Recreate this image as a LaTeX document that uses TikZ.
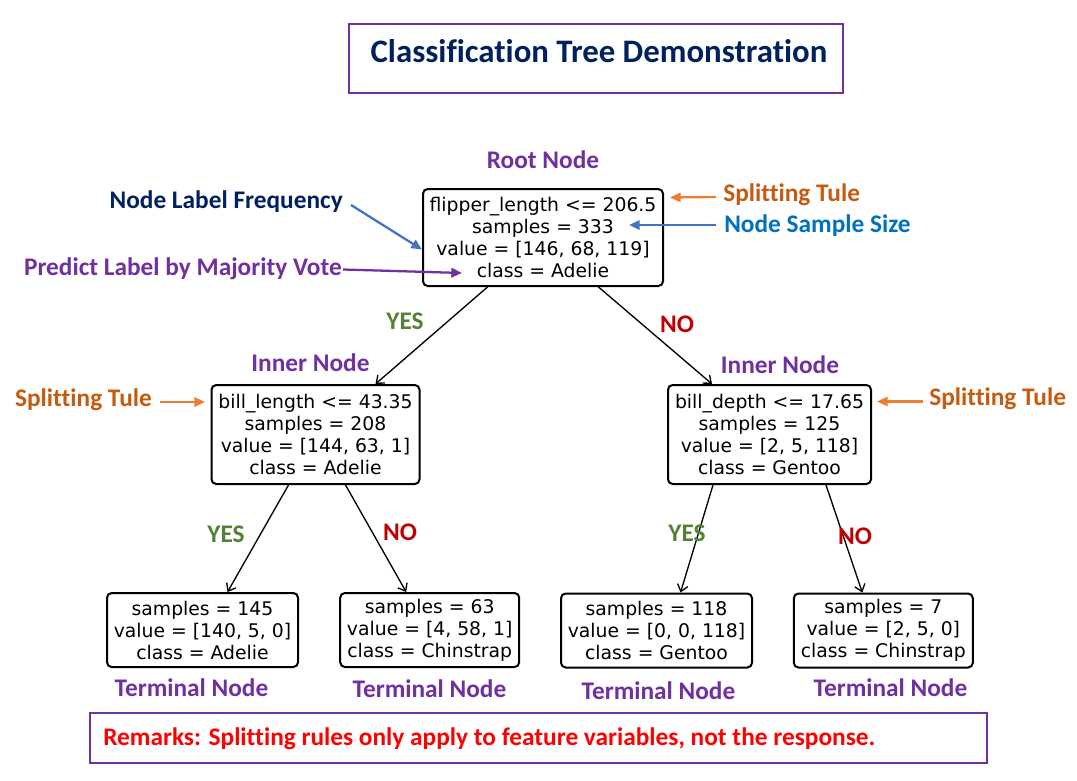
\documentclass[tikz,border=0pt]{standalone}
\usepackage{fontspec}
\setmainfont{Carlito}[Ligatures={NoCommon}]
\newfontfamily\dejavu{DejaVu Sans}
\usetikzlibrary{arrows.meta,calc}
\definecolor{cpurple}{HTML}{7030A0}
\definecolor{cnavy}{HTML}{002060}
\definecolor{corangetxt}{HTML}{C55A11}
\definecolor{corange}{HTML}{ED7D31}
\definecolor{cbluetxt}{HTML}{0070C0}
\definecolor{cblue}{HTML}{4472C4}
\definecolor{cgreen}{HTML}{548235}
\definecolor{cdarkred}{HTML}{C00000}
\definecolor{cred}{HTML}{FF0000}
\newcommand{\pxl}[1]{#1*0.75pt}
\tikzset{
  tnode/.style={draw, line width=1.5pt, rounded corners=3.5pt, align=center, inner sep=0pt,
    font=\dejavu\fontsize{14.1}{16.5}\selectfont, fill=white},
  lbl/.style={font=\bfseries\fontsize{19}{22}\selectfont, inner sep=0pt, anchor=base},
  edge/.style={line width=1pt, -{Straight Barb[length=5pt,width=8pt]}},
  ann/.style={line width=1.7pt, -{Triangle[length=8pt,width=7pt]}},
  yes/.style={lbl, text=cgreen},
  no/.style={lbl, text=cdarkred},
}
\begin{document}
\begin{tikzpicture}[x=0.75pt,y=-0.75pt]
\useasboundingbox (0,0) rectangle (1077,781);
% title
\node[draw=cpurple, line width=1.5pt, minimum width=\pxl{494}, minimum height=\pxl{69}, inner sep=0pt] (titlebox) at (596.3,58.7) {};
\node[font=\bfseries\fontsize{24.6}{28}\selectfont, text=cnavy, anchor=base, inner sep=0pt] (title) at (599,62.7) {Classification Tree Demonstration};
% tree nodes
\node[tnode, minimum width=\pxl{240}, minimum height=\pxl{97}] (root) at (543,237.5)
  {flipper\_length <= 206.5\\samples = 333\\value = [146, 68, 119]\\class = Adelie};
\node[tnode, minimum width=\pxl{208}, minimum height=\pxl{99}] (L) at (315.5,434.5)
  {bill\_length <= 43.35\\samples = 208\\value = [144, 63, 1]\\class = Adelie};
\node[tnode, minimum width=\pxl{203}, minimum height=\pxl{99}] (R) at (769.5,434.5)
  {bill\_depth <= 17.65\\samples = 125\\value = [2, 5, 118]\\class = Gentoo};
\node[tnode, minimum width=\pxl{191}, minimum height=\pxl{74}] (LL) at (202.5,630)
  {samples = 145\\value = [140, 5, 0]\\class = Adelie};
\node[tnode, minimum width=\pxl{179}, minimum height=\pxl{74}] (LR) at (429.7,630)
  {samples = 63\\value = [4, 58, 1]\\class = Chinstrap};
\node[tnode, minimum width=\pxl{191}, minimum height=\pxl{74}] (RL) at (656.5,630.5)
  {samples = 118\\value = [0, 0, 118]\\class = Gentoo};
\node[tnode, minimum width=\pxl{179}, minimum height=\pxl{74}] (RR) at (883.3,630.5)
  {samples = 7\\value = [2, 5, 0]\\class = Chinstrap};
% tree edges
\draw[edge] ([shift={(-55.5,0)}]root.south) -- ([shift={(60,0)}]L.north);
\draw[edge] ([shift={(55.5,0)}]root.south) -- ([shift={(-57.5,0)}]R.north);
\draw[edge] ([shift={(-27,0)}]L.south) -- ([shift={(25,0)}]LL.north);
\draw[edge] ([shift={(30,0)}]L.south) -- ([shift={(-23.5,0)}]LR.north);
\draw[edge] ([shift={(-56.5,0)}]R.south) -- ([shift={(24,0)}]RL.north);
\draw[edge] ([shift={(56.5,0)}]R.south) -- ([shift={(-21,0)}]RR.north);
% edge labels
\node[yes] (yes1) at (405,329) {YES};
\node[no] (no1) at (677,332) {NO};
\node[yes] (yes2) at (226,542) {YES};
\node[no] (no2) at (400,540) {NO};
\node[yes] (yes3) at (687,541) {YES};
\node[no] (no3) at (855,544) {NO};
% node type labels
\node[lbl, text=cpurple] (rootlbl) at (543,169) {Root Node};
\node[lbl, text=cpurple] (innl) at (310.5,371.5) {Inner Node};
\node[lbl, text=cpurple] (innr) at (780,373.5) {Inner Node};
\node[lbl, text=cpurple] (tn1) at (191.5,696) {Terminal Node};
\node[lbl, text=cpurple] (tn2) at (429.5,697) {Terminal Node};
\node[lbl, text=cpurple] (tn3) at (658.5,699) {Terminal Node};
\node[lbl, text=cpurple] (tn4) at (890.5,696) {Terminal Node};
% annotations
\node[lbl, anchor=base east, text=cnavy] (nlf) at (343,208) {Node Label Frequency};
\node[lbl, anchor=base east, text=cpurple] (pl) at (342,275) {Predict Label by Majority Vote};
\node[lbl, anchor=base west, text=corangetxt] (st1) at (723,201) {Splitting Tule};
\node[lbl, anchor=base west, text=cbluetxt] (nss) at (724,232) {Node Sample Size};
\node[lbl, anchor=base east, text=corangetxt] (st2) at (152,406.5) {Splitting Tule};
\node[lbl, anchor=base west, text=corangetxt] (st3) at (929,405.5) {Splitting Tule};
\draw[ann, cblue] ([shift={(8,-3)}]nlf.base east) -- ([shift={(0,12)}]root.west);
\draw[ann, cpurple] ([shift={(1,-5.5)}]pl.base east) -- ([shift={(40,35.5)}]root.west);
\draw[ann, corange] ([shift={(-7,-4)}]st1.base west) -- ([shift={(6,-40)}]root.east);
\draw[ann, cblue] ([shift={(-8,-7)}]nss.base west) -- ([shift={(-35,-12.5)}]root.east);
\draw[ann, corange] ([shift={(8,-4.5)}]st2.base east) -- ([shift={(-5.5,-32.5)}]L.west);
\draw[ann, corange] ([shift={(-6,-4)}]st3.base west) -- ([shift={(5,-33)}]R.east);
% remarks
\node[draw=cpurple, line width=1.5pt, minimum width=\pxl{897}, minimum height=\pxl{50}, inner sep=0pt] (rembox) at (538.5,738) {};
\node[lbl, anchor=base west, text=cred, font=\bfseries\fontsize{19}{22}\selectfont] (rem) at (103,745) {Remarks: Splitting rules only apply to feature variables, not the response.};
\end{tikzpicture}
\end{document}
